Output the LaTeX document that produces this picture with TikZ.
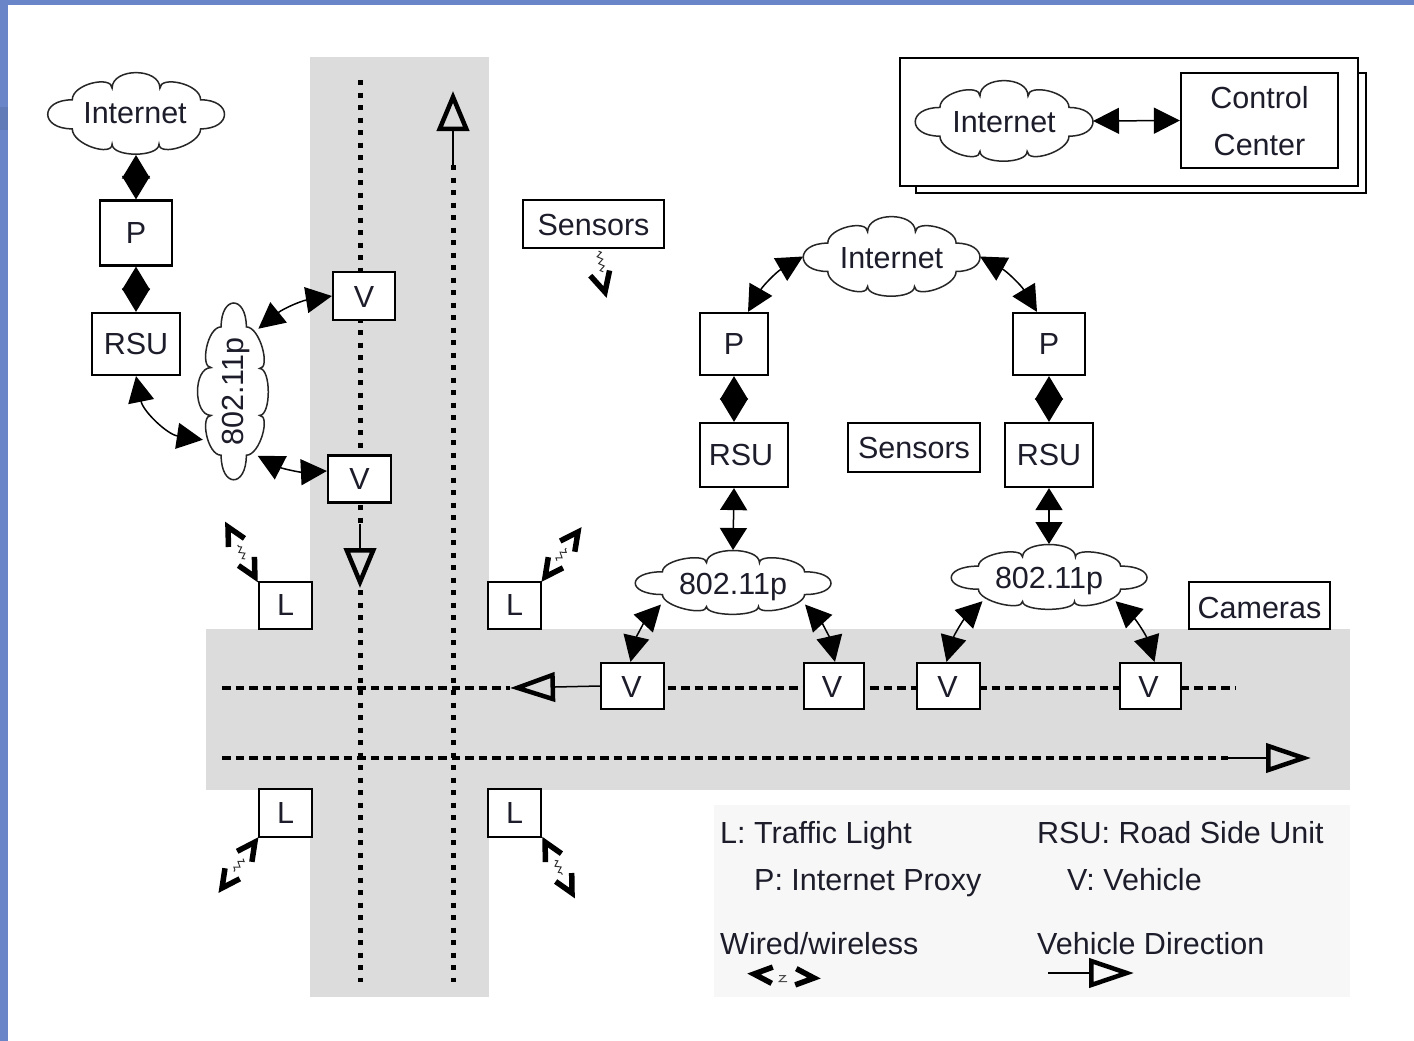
\documentclass[tikz,border=0pt]{standalone}
\usepackage{fontspec}
\setmainfont{Liberation Sans}
\usetikzlibrary{arrows.meta,calc,shapes.geometric,decorations.pathmorphing}
\definecolor{road}{HTML}{DCDCDC}
\definecolor{legendbg}{HTML}{F7F7F7}
\definecolor{frameblue}{HTML}{6A86C8}
\definecolor{ink}{HTML}{1C1C2A}
\tikzset{
  x=1pt,y=-1pt,
  every node/.style={font=\fontsize{30.5}{36}\selectfont,text=ink},
  box/.style={draw=black,line width=2.2pt,fill=white,inner sep=0pt,anchor=center},
  puffline/.style={draw=black!85,line width=1.5pt,fill=white},
  puff/.style={ellipse,inner sep=0pt,outer sep=0pt},
  plain/.style={inner sep=0pt,anchor=base west},
  link/.style={line width=1.5pt,{Triangle[length=26pt,width=26pt]}-{Triangle[length=26pt,width=26pt]}},
  duo/.style={line width=1.5pt,{Triangle[length=23.5pt,width=28pt]}-{Triangle[length=23.5pt,width=28pt]}},
  stem/.style={line width=1.5pt,{Triangle[length=22pt,width=27pt]}-{Triangle[length=22pt,width=27pt]}},
  vdots/.style={line width=5pt,dash pattern=on 5pt off 7.5pt},
  hdots/.style={line width=4.5pt,dash pattern=on 8.5pt off 5pt},
  vdir/.style={line width=1.5pt,-{Triangle[open,length=40pt,width=32pt,line width=4.5pt]}},
  hdir/.style={line width=1.5pt,-{Triangle[open,length=45pt,width=29pt,line width=4.5pt]}},
  barb/.style={line width=5.5pt,miter limit=10},
  zig/.style={line width=1pt,black!80,decorate,decoration={zigzag,segment length=7pt,amplitude=2.5pt}}
}
% moves a node's text down by #1 inside its centred node
\newcommand{\lowr}[2]{\raisebox{0pt}[\dimexpr\height+#1*2\relax][\depth]{#2}}
% cloud outline in a unit box: eight lobes, narrow side lobes
\newcommand{\puffpath}[5]{%
  \path[puffline,shift={(#1,#2)},rotate=#5,xscale=#3/2,yscale=#4/2]
    (-.72,-.33) .. controls (-1.09,-.33) and (-1.09,.37) .. (-.72,.37)
    .. controls (-.72,.75) and (-.27,1.05) .. (-.27,.74)
    .. controls (-.27,1.06) and (.26,1.06) .. (.26,.74)
    .. controls (.26,1.05) and (.73,.75) .. (.73,.37)
    .. controls (1.09,.37) and (1.09,-.33) .. (.73,-.33)
    .. controls (.73,-.72) and (.27,-.92) .. (.27,-.61)
    .. controls (.27,-1.11) and (-.27,-1.11) .. (-.27,-.61)
    .. controls (-.27,-.92) and (-.72,-.72) .. (-.72,-.33) -- cycle;}
\newcommand{\wbarb}[4]{\draw[barb] ($(#1)!#3pt!#4:(#2)$) -- (#1) -- ($(#1)!#3pt!-#4:(#2)$);}
\newcommand{\wless}[3]{\wbarb{#1}{#2}{#3}{27}\wbarb{#2}{#1}{#3}{27}\draw[zig] ($(#1)!.36!(#2)$) -- ($(#1)!.64!(#2)$);}
\begin{document}
\begin{tikzpicture}
\path[use as bounding box,fill=white] (0,0) rectangle (1414,1041);
\fill[frameblue] (0,0) rectangle (1414,5);
\fill[frameblue] (0,0) rectangle (8,1041);
\fill[frameblue!92!black] (0,107) rectangle (8,130);
% roads
\fill[road] (310,57) rectangle (489,997);
\fill[road] (206,629) rectangle (1350,790);
\fill[legendbg] (714,805) rectangle (1350,997);
% coordinates of the free ends
\coordinate (va) at (360,80);
\coordinate (vb) at (360,524);
\coordinate (vc) at (360,590);
\coordinate (vd) at (360,982);
\coordinate (ve) at (453,165);
\coordinate (vf) at (453,982);
\coordinate (vg) at (453,91);
\coordinate (ha) at (222,688);
\coordinate (hb) at (510,688);
\coordinate (hc) at (1235,688);
\coordinate (hd) at (222,758);
\coordinate (he) at (1228,758);
\coordinate (hf) at (1311,758);
\coordinate (vi) at (360,588);
% dotted lanes
\draw[vdots] (va) -- (vb);
\draw[vdots] (vc) -- (vd);
\draw[vdots] (ve) -- (vf);
\draw[hdots] (ha) -- (hb);
\draw[hdots] (hb) ++(90,0) -- (hc);
\draw[hdots] (hd) -- (he);
% boxes
\node[box,minimum width=72pt,minimum height=65pt] (Pl) at (136,233) {P};
\node[box,minimum width=88pt,minimum height=62pt] (Rl) at (136,344) {RSU};
\node[box,minimum width=62pt,minimum height=48pt] (V1) at (364,296) {\lowr{1pt}{V}};
\node[box,minimum width=63pt,minimum height=47pt] (V2) at (359.5,479) {V};
\node[box,minimum width=53pt,minimum height=47pt] (L1) at (285.5,605.5) {L};
\node[box,minimum width=53pt,minimum height=47pt] (L2) at (514.5,605.5) {L};
\node[box,minimum width=53pt,minimum height=48pt] (L3) at (285.5,813) {L};
\node[box,minimum width=53pt,minimum height=48pt] (L4) at (514.5,813) {L};
\node[box,minimum width=141pt,minimum height=48pt] (S1) at (593.5,224) {\lowr{1pt}{Sensors}};
\node[box,minimum width=132pt,minimum height=49pt] (S2) at (914,447.5) {Sensors};
\node[box,minimum width=68pt,minimum height=62pt] (Pm) at (734,344) {P};
\node[box,minimum width=88pt,minimum height=64pt] (Rm) at (744,455) {\hspace*{-6pt}RSU};
\node[box,minimum width=72pt,minimum height=62pt] (Pr) at (1049,344) {P};
\node[box,minimum width=88pt,minimum height=64pt] (Rr) at (1049,455) {RSU};
\node[box,minimum width=63pt,minimum height=46pt] (Va) at (632.5,686) {\hspace*{-2pt}\lowr{1pt}{V}};
\node[box,minimum width=60pt,minimum height=46pt] (Vb) at (834,686) {\hspace*{-4pt}\lowr{1pt}{V}};
\node[box,minimum width=63pt,minimum height=46pt] (Vc) at (948.5,686) {\hspace*{-2pt}\lowr{1pt}{V}};
\node[box,minimum width=61pt,minimum height=46pt] (Vd) at (1150.5,686) {\hspace*{-4pt}\lowr{1pt}{V}};
\node[box,minimum width=141pt,minimum height=47pt] (Cam) at (1259.5,605.5) {\lowr{2pt}{Cameras}};
% control centre stack
\node[box,minimum width=450pt,minimum height=120pt] (Back) at (1141,133) {};
\node[box,minimum width=458pt,minimum height=128pt] (Front) at (1129,122) {};
\node[box,minimum width=157pt,minimum height=95pt,align=center] (CC) at (1259.5,120.5) {\lowr{1pt}{Control}\\[11pt]Center};
% clouds
\puffpath{136}{113.5}{177}{83}{0}
\node[puff,minimum width=177pt,minimum height=83pt] (Cl) at (136,113.5) {\hspace*{-2pt}Internet};
\puffpath{1004}{121}{178}{82}{0}
\node[puff,minimum width=178pt,minimum height=82pt] (Ct) at (1004,121) {\lowr{1pt}{Internet}};
\puffpath{891.5}{256.5}{177}{81}{0}
\node[puff,minimum width=177pt,minimum height=81pt] (Cm) at (891.5,256.5) {\lowr{2pt}{Internet}};
\puffpath{733}{582.5}{196}{65}{0}
\node[puff,minimum width=196pt,minimum height=65pt] (Wa) at (733,582.5) {\lowr{5pt}{802.11p}};
\puffpath{1049}{577}{196}{66}{0}
\node[puff,minimum width=196pt,minimum height=66pt] (Wb) at (1049,577) {\lowr{4pt}{802.11p}};
\puffpath{233}{391.5}{177}{72}{90}
\node[puff,minimum width=177pt,minimum height=72pt,rotate=90] (Wl) at (233,391.5) {\lowr{3pt}{802.11p}};
% links
\draw[duo] (Cl.south) -- (Pl.north);
\draw[duo] (Pl.south) -- (Rl.north);
\draw[link] (Rl.south) to[bend right=35] (Wl.148);
\draw[link] (Wl.338) to[bend left=15] (V1.west);
\draw[link] (Wl.201.5) to[bend right=15] ([yshift=8pt]V2.west);
\draw[link] (Ct.east) -- (CC.west);
\draw[link] (Cm.west) to[bend right=15] ([xshift=14pt]Pm.north);
\draw[link] (Cm.east) to[bend left=15] ([xshift=-12pt]Pr.north);
\draw[duo] (Pm.south) -- ([xshift=-10pt]Rm.north);
\draw[duo] (Pr.south) -- (Rr.north);
\draw[stem] ([xshift=-10pt]Rm.south) -- (Wa.north);
\draw[stem] (Rr.south) -- (Wb.north);
\draw[link] (Wa.197) to[bend right=15] ([xshift=-2pt]Va.north);
\draw[link] (Wa.343) to[bend left=15] ([xshift=1pt]Vb.north);
\draw[link] (Wb.200) to[bend right=15] ([xshift=-2pt]Vc.north);
\draw[link] (Wb.340) to[bend left=15] ([xshift=4pt]Vd.north);
% direction arrows
\draw[vdir] (vb) -- (vi);
\draw[vdir] (ve) -- (vg);
\draw[hdir] (Va.west) -- (hb);
\draw[hdir] (he) -- (hf);
% wireless links
\coordinate (wa) at (228,527);
\coordinate (wb) at (578,532);
\coordinate (wc) at (222,888);
\coordinate (wd) at (572,893);
\coordinate (xa) at ([shift={(-3,-4)}]L1.north west);
\coordinate (xb) at ([shift={(3,-4)}]L2.north east);
\coordinate (xc) at ([shift={(-3,4)}]L3.south west);
\coordinate (xd) at ([shift={(3,4)}]L4.south east);
\wless{xa}{wa}{20}
\wless{xb}{wb}{20}
\wless{xc}{wc}{20}
\wless{xd}{wd}{20}
\coordinate (we) at (605,292);
\wbarb{we}{S1.south}{22}{27}
\draw[zig] (S1.south) ++(5,2) -- (603,272);
% legend
\node[plain] (t1) at (720,843) {L: Traffic Light};
\node[plain] (t2) at (754,890) {P: Internet Proxy};
\node[plain] (t3) at (1037,843) {RSU: Road Side Unit};
\node[plain] (t4) at (1067,890) {V: Vehicle};
\node[plain] (t5) at (720,954) {Wired/wireless};
\node[plain] (t6) at (1037,954) {Vehicle Direction};
\coordinate (la) at (754,974);
\coordinate (lb) at (814,978);
\wbarb{la}{lb}{20}{24}
\wbarb{lb}{la}{20}{24}
\draw[line width=1pt,black!70] ($(la)!.42!(lb)$) -- ++(6,0) -- ++(-6,6) -- ++(8,0);
\coordinate (lc) at (1048,973);
\coordinate (ld) at (1134,973);
\draw[hdir] (lc) -- (ld);
\end{tikzpicture}
\end{document}
